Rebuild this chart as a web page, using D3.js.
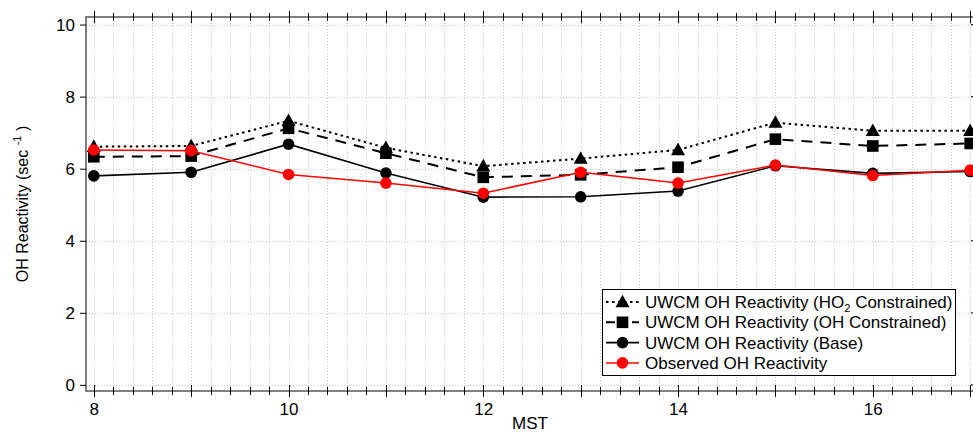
<!DOCTYPE html>
<html>
<head>
<meta charset="utf-8">
<script src="https://cdn.jsdelivr.net/npm/d3@7"></script>
<style>
  html, body { margin: 0; padding: 0; background: #fff; overflow: hidden; }
  svg { display: block; font-family: "Liberation Sans", Arial, Helvetica, sans-serif; }
</style>
</head>
<body>
<div id="chart"></div>
<script>
// hours (MST)
const hours = [8, 9, 10, 11, 12, 13, 14, 15, 16, 17];
const ho2Constrained = [6.61, 6.63, 7.33, 6.58, 6.07, 6.28, 6.52, 7.28, 7.05, 7.05];
const ohConstrained = [6.33, 6.35, 7.12, 6.43, 5.76, 5.83, 6.04, 6.82, 6.63, 6.70];
const baseModel = [5.80, 5.90, 6.68, 5.88, 5.21, 5.22, 5.38, 6.08, 5.87, 5.92];
const observed = [6.52, 6.50, 5.84, 5.60, 5.32, 5.90, 5.60, 6.10, 5.81, 5.96];
const xTicks = [8, 10, 12, 14, 16];
const yTicks = [0, 2, 4, 6, 8, 10];

const series = [
  { name: 'UWCM OH Reactivity (HO2 Constrained)', values: ho2Constrained, color: '#000', dash: '2.5,3.5', marker: 'triangle', width: 2 },
  { name: 'UWCM OH Reactivity (OH Constrained)', values: ohConstrained, color: '#000', dash: '11,8', marker: 'square', width: 2 },
  { name: 'UWCM OH Reactivity (Base)', values: baseModel, color: '#000', dash: null, marker: 'circle', width: 1.6 },
  { name: 'Observed OH Reactivity', values: observed, color: '#ff0000', dash: null, marker: 'circle', width: 1.5 },
];

const width = 973;
const height = 433;
const frame = { left: 86, right: 976, top: 17, bottom: 391 };
const fs = 17;

const svg = d3.select('#chart').append('svg').attr('width', width).attr('height', height);

const x = d3.scaleLinear().domain([7.92, 17.06]).range([frame.left, frame.right]);
const y = d3.scaleLinear().domain([-0.17, 10.21]).range([frame.bottom, frame.top]);

// grid
const grid = svg.append('g').attr('stroke', '#c4c4c4').attr('stroke-width', 1).attr('stroke-dasharray', '1,2');
d3.range(8, 17.01, 0.2).forEach((h) => {
  grid.append('line').attr('x1', Math.round(x(h)) + 0.5).attr('x2', Math.round(x(h)) + 0.5)
    .attr('y1', frame.top).attr('y2', frame.bottom);
});
yTicks.forEach((v) => {
  grid.append('line').attr('x1', frame.left).attr('x2', frame.right)
    .attr('y1', Math.round(y(v)) + 0.5).attr('y2', Math.round(y(v)) + 0.5);
});

// frame
svg.append('rect').attr('x', frame.left).attr('y', frame.top)
  .attr('width', frame.right - frame.left).attr('height', frame.bottom - frame.top)
  .attr('fill', 'none').attr('stroke', '#555').attr('stroke-width', 1.5);

// x ticks, bottom and top, crossing the frame
const tickG = svg.append('g').attr('stroke', '#000').attr('stroke-width', 1);
d3.range(8, 17.01, 0.2).forEach((h) => {
  const major = Math.abs(h - Math.round(h)) < 1e-6;
  const half = major ? 6 : 4;
  const px = Math.round(x(h)) + 0.5;
  tickG.append('line').attr('x1', px).attr('x2', px).attr('y1', frame.bottom - half).attr('y2', frame.bottom + half);
  tickG.append('line').attr('x1', px).attr('x2', px).attr('y1', frame.top - half).attr('y2', frame.top + half);
});

svg.append('g').attr('transform', `translate(0,${frame.bottom})`)
  .call(d3.axisBottom(x).tickValues(xTicks).tickSize(0).tickPadding(12).tickFormat(d3.format('d')))
  .call((g) => g.select('.domain').remove())
  .selectAll('text').attr('font-size', fs).attr('fill', '#000');

svg.append('g').attr('transform', `translate(${frame.left},0)`)
  .call(d3.axisLeft(y).tickValues(yTicks).tickSize(6).tickPadding(5).tickFormat(d3.format('d')))
  .call((g) => g.select('.domain').remove())
  .call((g) => g.selectAll('line').attr('stroke', '#000'))
  .selectAll('text').attr('font-size', fs).attr('fill', '#000');

svg.selectAll('.tick text').attr('font-family', '"Liberation Sans", Arial, sans-serif');

// right side mirror ticks (inward)
yTicks.forEach((v) => {
  tickG.append('line').attr('x1', frame.right - 5).attr('x2', frame.right).attr('y1', y(v)).attr('y2', y(v));
});

// axis titles
svg.append('text').attr('x', 530).attr('y', 429).attr('text-anchor', 'middle').attr('font-size', fs).text('MST');
const yl = svg.append('text').attr('transform', 'translate(28,204) rotate(-90)').attr('text-anchor', 'middle').attr('font-size', 16);
yl.append('tspan').text('OH Reactivity (sec ');
yl.append('tspan').attr('dy', -7).attr('font-size', 11).text('-1');
yl.append('tspan').attr('dy', 7).text(' )');

// markers
function drawMarker(g, type, cx, cy, color) {
  if (type === 'circle') {
    g.append('circle').attr('cx', cx).attr('cy', cy).attr('r', 5.8).attr('fill', color);
  } else if (type === 'square') {
    g.append('rect').attr('x', cx - 5.8).attr('y', cy - 5.8).attr('width', 11.6).attr('height', 11.6).attr('fill', color);
  } else {
    const s = 7;
    g.append('path').attr('d', `M${cx},${cy - s * 1.05} L${cx + s},${cy + s * 0.75} L${cx - s},${cy + s * 0.75} Z`).attr('fill', color);
  }
}

const line = d3.line().x((d) => x(d[0])).y((d) => y(d[1]));
series.forEach((s) => {
  const g = svg.append('g');
  g.append('path').attr('d', line(hours.map((h, i) => [h, s.values[i]])))
    .attr('fill', 'none').attr('stroke', s.color).attr('stroke-width', s.width)
    .attr('stroke-dasharray', s.dash);
  hours.forEach((h, i) => drawMarker(g, s.marker, x(h), y(s.values[i]), s.color));
});

// legend
const lg = svg.append('g');
lg.append('rect').attr('x', 602.5).attr('y', 289.5).attr('width', 353).attr('height', 86)
  .attr('fill', '#fff').attr('stroke', '#000').attr('stroke-width', 1);
series.forEach((s, i) => {
  const ly = 302 + i * 20.3;
  lg.append('line').attr('x1', 606).attr('x2', 639).attr('y1', ly).attr('y2', ly)
    .attr('stroke', s.color).attr('stroke-width', s.width).attr('stroke-dasharray', s.dash === '11,8' ? '9,4' : s.dash);
  drawMarker(lg, s.marker, 622.5, ly, s.color);
  const t = lg.append('text').attr('x', 645).attr('y', ly + 6).attr('font-size', fs);
  if (i === 0) {
    t.append('tspan').text('UWCM OH Reactivity (HO');
    t.append('tspan').attr('dy', 4).attr('font-size', 11).text('2');
    t.append('tspan').attr('dy', -4).text(' Constrained)');
  } else {
    t.text(s.name);
  }
});
</script>
</body>
</html>
